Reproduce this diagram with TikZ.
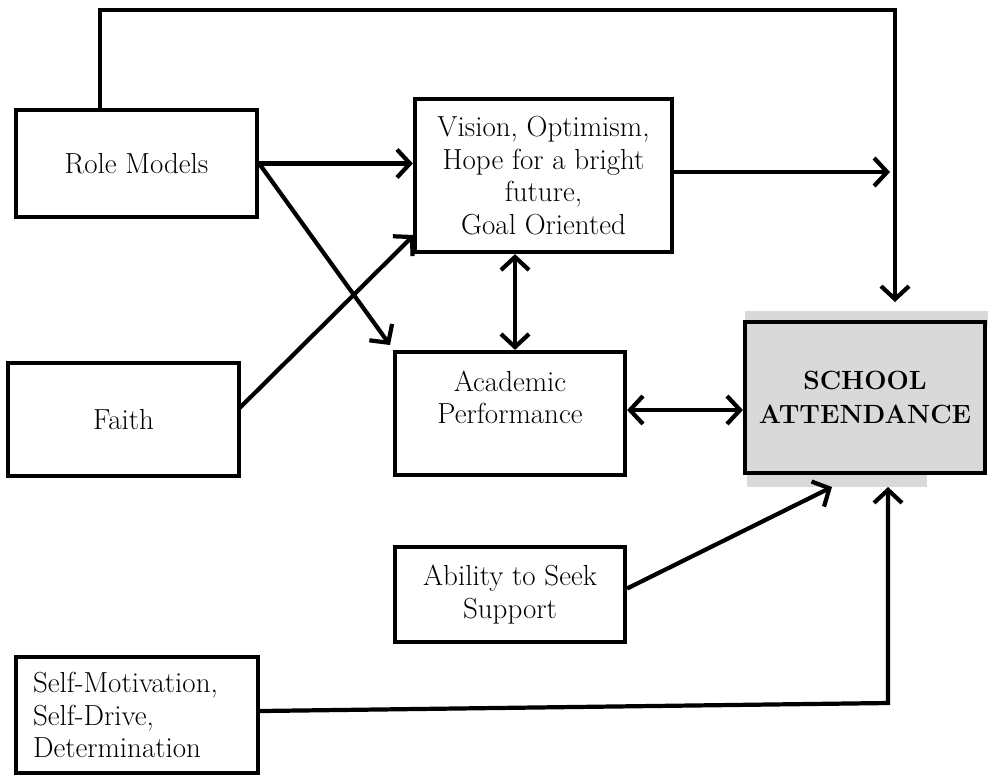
\documentclass[tikz,border=0pt]{standalone}
\usepackage{tikz}
\usetikzlibrary{arrows.meta}

\tikzset{
  box/.style={draw,line width=2.4pt,fill=white,align=center,inner sep=0pt,
    font=\fontsize{16.5}{18.5}\selectfont},
  link/.style={line width=2.4pt},
  >={Straight Barb[length=2.6mm,width=5.6mm,line width=2.4pt]}
}

\begin{document}
\begin{tikzpicture}
          \useasboundingbox (0,0) rectangle (19.78,-15.52);

          % light band round the grey box
          \fill[black!15] (14.9,-6.22) rectangle (19.76,-6.5);
          \fill[black!15] (14.94,-9.3) rectangle (18.54,-9.74);

          \node[box,minimum width=4.82cm,minimum height=2.14cm] (role) at (2.73,-3.27) {Role Models};
          \node[box,minimum width=5.14cm,minimum height=3.06cm] (vision) at (10.87,-3.51)
               {Vision, Optimism,\\Hope for a bright\\future,\\Goal Oriented};
          \node[box,minimum width=4.62cm,minimum height=2.26cm] (faith) at (2.47,-8.39) {Faith};
          \node[box,minimum width=4.6cm,minimum height=2.46cm] (acad) at (10.2,-8.27)
               {Academic\\Performance\\\mbox{}};
          \node[box,fill=black!15,minimum width=4.8cm,minimum height=3.02cm,
                font=\fontsize{15}{19}\selectfont\bfseries] (school) at (17.3,-7.95)
               {SCHOOL\\ATTENDANCE};
          \node[box,minimum width=4.6cm,minimum height=1.9cm] (seek) at (10.2,-11.89)
               {Ability to Seek\\Support};
          \node[box,minimum width=4.84cm,minimum height=2.32cm,text width=4.16cm,align=left] (self)
               at (2.74,-14.3) {Self-Motivation,\\Self-Drive,\\Determination};

          % ends and corners of the long lines
          \coordinate (topl) at (2.0,-0.2);
          \coordinate (topr) at (17.9,-0.2);
          \coordinate (tipa) at (17.9,-6.04);
          \coordinate (mid) at (17.8,-3.44);
          \coordinate (tipb) at (7.8,-6.9);
          \coordinate (tipc) at (8.28,-4.7);
          \coordinate (tipd) at (16.64,-9.74);
          \coordinate (botr) at (17.76,-14.06);
          \coordinate (tipe) at (17.76,-9.74);

          \draw[link,->] (role.north -| topl) -- (topl) -- (topr) -- (tipa);
          \draw[link,->] (vision.east |- mid) -- (mid);
          \draw[link,->] (role.east) -- (role.east -| vision.west);
          \draw[link,->] (role.east) -- (tipb);
          \draw[link,->] (faith.east) ++(-0.06,0.2) -- (tipc);
          \draw[link,<->] (vision.south -| 10.3,0) -- (acad.north -| 10.3,0);
          \draw[link,<->] (acad.east |- 0,-8.2) -- (school.west |- 0,-8.2);
          \draw[link,->] (seek.east) ++(0,0.12) -- (tipd);
          \draw[link,->] (self.east) ++(0,0.08) -- (botr) -- (tipe);
        \end{tikzpicture}
\end{document}
